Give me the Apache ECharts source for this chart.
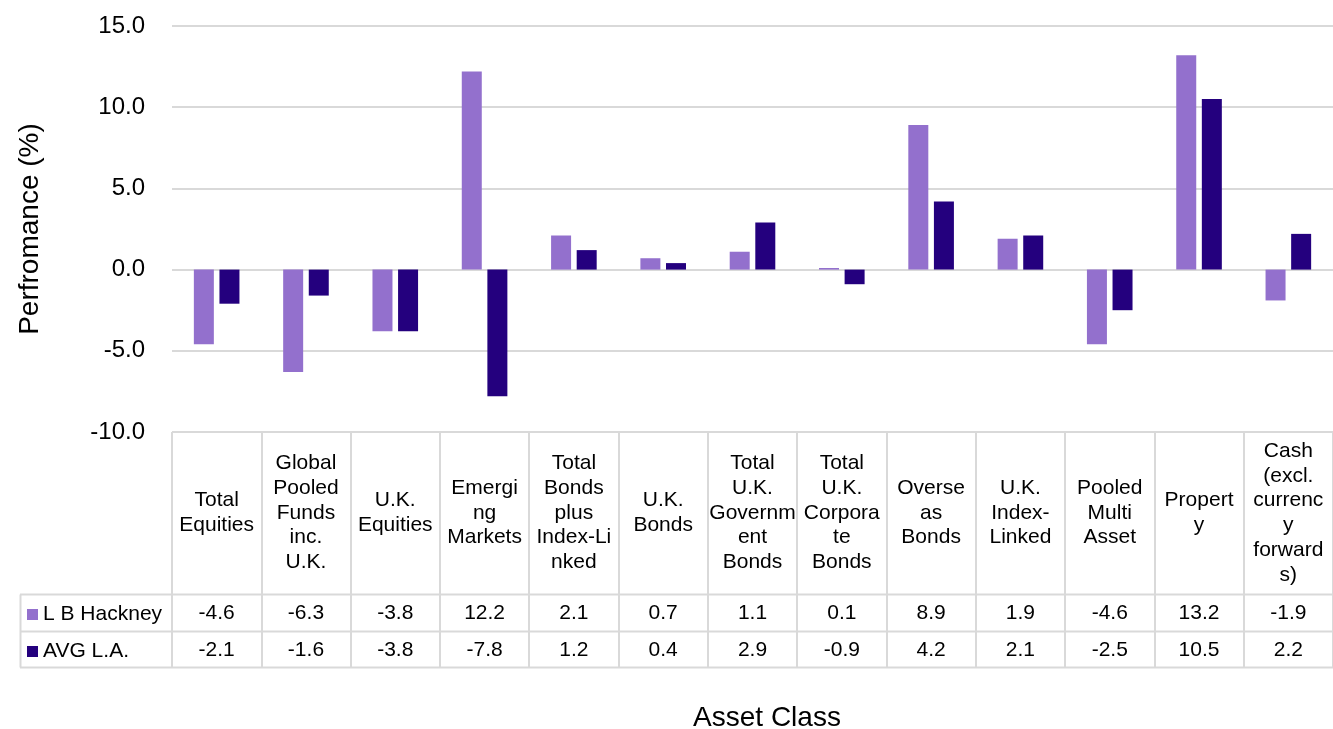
<!DOCTYPE html>
<html>
<head>
<meta charset="utf-8">
<title>Asset Class Performance</title>
<script src="https://cdn.jsdelivr.net/npm/echarts@6/dist/echarts.min.js"></script>
<style>
html,body{margin:0;padding:0;background:#fff;}
#main{width:1333px;height:729px;}
</style>
</head>
<body>
<div id="main"></div>
<script>
// categories as they wrap in the data table
var categories = [
	'Total\nEquities',
	'Global\nPooled\nFunds\ninc.\nU.K.',
	'U.K.\nEquities',
	'Emergi\nng\nMarkets',
	'Total\nBonds\nplus\nIndex-Li\nnked',
	'U.K.\nBonds',
	'Total\nU.K.\nGovernm\nent\nBonds',
	'Total\nU.K.\nCorpora\nte\nBonds',
	'Overse\nas\nBonds',
	'U.K.\nIndex-\nLinked',
	'Pooled\nMulti\nAsset',
	'Propert\ny',
	'Cash\n(excl.\ncurrenc\ny\nforward\ns)'
];
var seriesNames = ['L B Hackney', 'AVG L.A.'];
var hackney = [-4.6, -6.3, -3.8, 12.2, 2.1, 0.7, 1.1, 0.1, 8.9, 1.9, -4.6, 13.2, -1.9];
var avgLA = [-2.1, -1.6, -3.8, -7.8, 1.2, 0.4, 2.9, -0.9, 4.2, 2.1, -2.5, 10.5, 2.2];
var yTicks = [-10, -5, 0, 5, 10, 15];

var lightColor = '#9370cd';
var darkColor = '#24007e';
var borderColor = '#d9d9d9';
var font = 'Liberation Sans, Arial, sans-serif';

var chart = echarts.init(document.getElementById('main'));

//数值行 (hidden axes that only carry labels)
function valueAxis(values, margin) {
	return {
		type: 'category',
		gridIndex: 0,
		position: 'bottom',
		offset: 0,
		data: categories,
		axisLine: {show: false, onZero: false},
		axisTick: {show: false},
		splitLine: {show: false},
		axisLabel: {
			interval: 0,
			margin: margin,
			verticalAlign: 'middle',
			fontFamily: font,
			fontSize: 21,
			color: '#000',
			formatter: function (v, i) {
				return values[i].toFixed(1);
			}
		}
	};
}

var option = {
	animation: false,
	color: [lightColor, darkColor],
	grid: {
		left: 172,
		right: 0,
		top: 26,
		bottom: 297,
		containLabel: false
	},
	legend: {
		orient: 'vertical',
		left: 22,
		top: 599,
		itemWidth: 11,
		itemHeight: 11,
		itemGap: 16,
		icon: 'rect',
		textStyle: {fontFamily: font, fontSize: 21, lineHeight: 21, color: '#000'},
		data: seriesNames
	},
	xAxis: [
		{
			type: 'category',
			data: categories,
			position: 'bottom',
			offset: 0,
			axisLine: {show: false, onZero: false},
			axisTick: {
				show: true,
				interval: 0,
				length: 236,
				lineStyle: {color: borderColor, width: 2}
			},
			axisLabel: {
				interval: 0,
				margin: 81,
				verticalAlign: 'middle',
				fontFamily: font,
				fontSize: 21,
				lineHeight: 24.7,
				color: '#000'
			}
		},
		valueAxis(hackney, 181),
		valueAxis(avgLA, 218)
	],
	yAxis: {
		type: 'value',
		min: yTicks[0],
		max: yTicks[yTicks.length - 1],
		interval: 5,
		name: 'Perfromance (%)',
		nameLocation: 'middle',
		nameGap: 128,
		nameTextStyle: {fontFamily: font, fontSize: 28, color: '#000'},
		axisLine: {show: false},
		axisTick: {show: false},
		axisLabel: {
			margin: 27,
			fontFamily: font,
			fontSize: 24,
			color: '#000',
			formatter: function (v) { return v.toFixed(1); }
		},
		splitLine: {lineStyle: {color: borderColor, width: 2}}
	},
	series: [
		{
			name: seriesNames[0],
			type: 'bar',
			data: hackney,
			barWidth: 20,
			barGap: '28%',
			itemStyle: {color: lightColor}
		},
		{
			name: seriesNames[1],
			type: 'bar',
			data: avgLA,
			barWidth: 20,
			barGap: '28%',
			itemStyle: {color: darkColor}
		}
	],
	graphic: [
		//表格横线
		{type: 'line', shape: {x1: 20, y1: 594.5, x2: 1333, y2: 594.5}, style: {stroke: borderColor, lineWidth: 2}},
		{type: 'line', shape: {x1: 20, y1: 631.5, x2: 1333, y2: 631.5}, style: {stroke: borderColor, lineWidth: 2}},
		{type: 'line', shape: {x1: 20, y1: 667.5, x2: 1333, y2: 667.5}, style: {stroke: borderColor, lineWidth: 2}},
		{type: 'line', shape: {x1: 20.5, y1: 594.5, x2: 20.5, y2: 667.5}, style: {stroke: borderColor, lineWidth: 2}},
		{
			type: 'text',
			x: 767,
			y: 718,
			style: {
				text: 'Asset Class',
				font: '28px ' + font,
				fill: '#000',
				align: 'center',
				verticalAlign: 'middle'
			}
		}
	]
};

chart.setOption(option, true);
</script>
</body>
</html>
